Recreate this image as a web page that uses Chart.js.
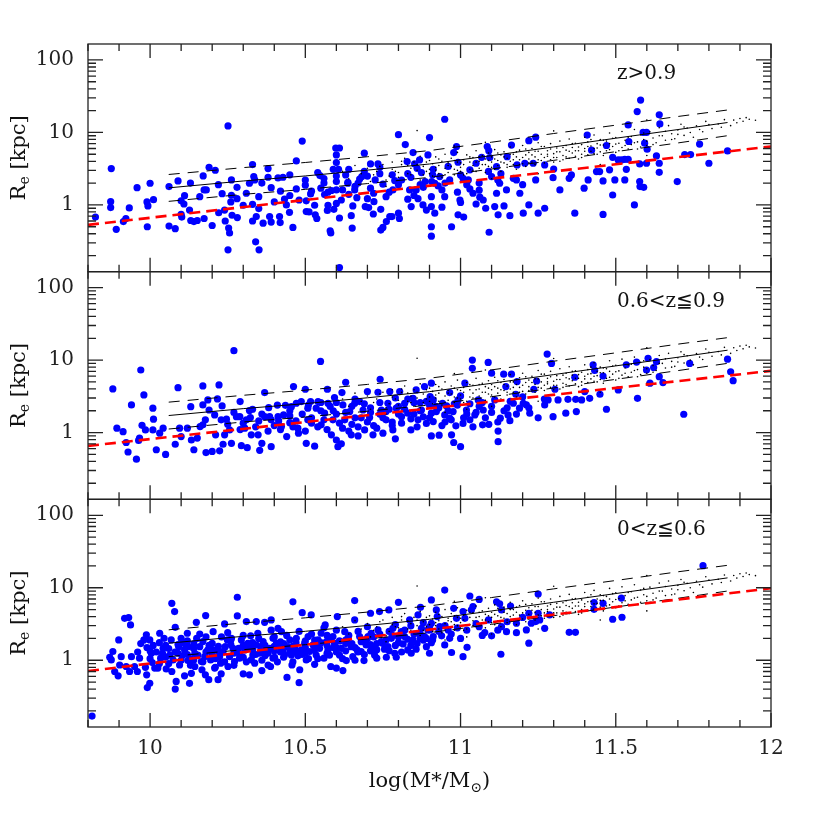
<!DOCTYPE html>
<html><head><meta charset="utf-8">
<script src="https://cdn.jsdelivr.net/npm/chart.js@4.4.0/dist/chart.umd.min.js"></script>
<style>html,body{margin:0;padding:0;background:#fff;}canvas{display:block;}</style>
</head><body>
<canvas id="c" width="814" height="814"></canvas>
<script>
const xTicks = [10, 10.5, 11, 11.5, 12];
const yTicks = [1, 10, 100];
const panelLabels = ['z>0.9', '0.6<z\u22660.9', '0<z\u22660.6'];

const hiZ = [[9.824,0.68],[9.875,3.17],[9.873,1.11],[9.873,0.92],[9.891,0.46],[9.914,0.59],[9.922,0.65],[9.933,0.91],[9.958,1.73],[9.991,0.50],[9.99,1.10],[9.993,0.97],[10.0,1.99],[10.011,1.18],[10.061,1.79],[10.061,0.51],[10.081,0.47],[10.09,2.14],[10.1,1.14],[10.1,0.74],[10.102,0.68],[10.111,1.34],[10.109,1.03],[10.127,0.85],[10.131,0.61],[10.141,0.59],[10.152,0.61],[10.171,2.51],[10.174,1.61],[10.181,1.61],[10.174,0.65],[10.19,3.31],[10.21,3.01],[10.2,0.52],[10.221,0.78],[10.232,1.43],[10.24,0.85],[10.242,0.60],[10.251,12.3],[10.251,0.24],[10.253,0.48],[10.256,0.41],[10.262,2.21],[10.262,1.36],[10.264,0.72],[10.28,1.22],[10.281,0.67],[10.3,0.99],[10.32,1.99],[10.33,3.60],[10.33,1.02],[10.334,2.46],[10.337,2.21],[10.33,0.60],[10.34,0.31],[10.351,0.24],[10.342,0.69],[10.35,0.89],[10.364,0.56],[10.38,3.17],[10.38,2.41],[10.39,1.73],[10.385,0.69],[10.39,0.58],[10.412,2.36],[10.417,0.69],[10.419,0.57],[10.428,2.41],[10.433,1.20],[10.439,1.0],[10.449,0.79],[10.46,0.49],[10.471,4.04],[10.471,1.66],[10.48,1.17],[10.49,7.6],[10.5,1.87],[10.503,1.14],[10.503,0.81],[10.512,0.80],[10.517,1.42],[10.53,0.99],[10.532,0.73],[10.537,0.65],[10.54,2.79],[10.547,2.54],[10.56,2.31],[10.562,1.39],[10.571,0.84],[10.573,0.99],[10.58,0.44],[10.582,0.41],[10.584,1.58],[10.59,3.10],[10.598,6.1],[10.61,6.1],[10.60,4.9],[10.60,3.84],[10.607,3.10],[10.60,2.10],[10.60,1.61],[10.60,1.05],[10.592,0.87],[10.61,0.66],[10.61,0.137],[10.616,1.17],[10.63,2.59],[10.637,1.99],[10.648,0.71],[10.651,0.48],[10.653,0.97],[10.659,1.61],[10.666,1.26],[10.675,2.28],[10.682,2.46],[10.69,5.17],[10.70,1.22],[10.693,0.95],[10.704,0.92],[10.71,3.68],[10.719,0.75],[10.721,1.11],[10.725,2.21],[10.734,3.68],[10.74,3.31],[10.743,0.45],[10.75,0.49],[10.743,0.87],[10.75,1.93],[10.761,0.59],[10.772,0.69],[10.779,0.69],[10.782,1.61],[10.788,2.17],[10.80,9.3],[10.80,0.77],[10.803,0.65],[10.822,6.8],[10.828,3.96],[10.83,1.20],[10.836,1.61],[10.841,0.95],[10.847,5.27],[10.852,3.68],[10.857,1.61],[10.863,1.22],[10.868,4.17],[10.874,2.79],[10.879,1.0],[10.886,2.10],[10.89,0.85],[10.895,4.9],[10.90,8.5],[10.906,0.50],[10.906,0.37],[10.906,1.30],
[10.573,1.50],[10.62,1.61],[10.637,2.05],[10.66,1.8],[10.69,2.9],[10.72,1.45],[10.76,1.3],[10.78,2.6],[10.81,2.2],[10.84,2.4],[10.87,1.9],[10.55,1.7],[10.45,1.35],[10.42,1.55],[10.35,1.3],[10.28,1.75],[10.5,2.2],[10.64,3.1],[10.7,2.5],[10.86,3.2],
[10.912,3.10],[10.907,2.10],[10.917,1.99],[10.928,1.83],[10.949,15.2],[10.94,1.61],[10.949,1.30],[10.906,0.95],[10.917,0.77],[10.94,0.93],[10.971,0.50],[10.978,5.27],[10.987,6.4],[10.992,3.88],[11.0,2.59],[10.992,0.73],[11.008,2.33],[10.998,1.17],[11.0,1.08],[11.01,0.68],[11.025,2.21],[11.03,1.66],[11.04,1.45],[11.05,1.03],[11.062,1.28],[11.073,1.17],[11.068,4.54],[11.086,6.4],[11.091,5.6],[11.094,4.5],[11.10,2.46],[11.092,0.42],[11.081,0.90],[11.11,0.95],[11.116,1.45],[11.121,0.73],[11.126,1.99],[11.14,0.97],[11.15,4.63],[11.159,0.71],[11.164,6.7],[11.17,2.33],[11.182,3.56],[11.191,1.45],[11.202,0.77],[11.207,3.76],[11.22,7.7],[11.22,1.0],[11.242,8.6],[11.242,2.21],[11.25,0.77],[11.271,0.90],[11.271,3.56],[11.298,2.38],[11.30,3.13],[11.32,1.61],[11.35,2.33],[11.357,2.59],[11.368,0.77],[11.398,1.70],[11.408,9.2],[11.411,2.21],[11.422,5.7],[11.438,2.88],[11.448,2.88],[11.459,2.14],[11.459,0.74],[11.47,6.6],[11.48,3.05],[11.49,4.54],[11.49,1.37],[11.497,2.21],[11.508,4.17],[11.518,4.17],[11.529,4.26],[11.534,3.10],[11.54,4.26],[11.529,2.21],[11.54,12.7],[11.542,7.5],[11.56,1.0],[11.569,19.4],[11.58,28],[11.577,3.68],[11.577,2.10],[11.578,1.79],[11.59,1.75],[11.588,10.0],[11.599,10.0],[11.593,7.1],[11.601,5.86],[11.599,3.76],[11.631,4.74],[11.64,17.5],[11.642,13.1],[11.64,3.76],[11.64,2.82],[11.698,2.10],[11.722,4.95],[11.741,4.95],[11.77,6.9],[11.80,3.76],[11.86,5.55],
[10.933,2.46],[10.965,2.21],[11.03,3.05],[11.05,3.76],[11.116,3.37],[11.148,1.61],[11.18,2.21],[11.234,3.76],[10.96,3.4],[11.06,2.0],[11.13,2.7],
[10.52,1.55],[10.56,2.0],[10.6,2.5],[10.64,1.4],[10.67,2.0],[10.71,1.7],[10.74,2.7],[10.77,1.5],[10.8,1.9],[10.83,2.7],[10.85,1.35],[10.88,1.75],[10.91,2.6],[10.95,2.0],[10.99,1.5],[11.02,1.9],[11.06,1.6],[11.09,2.9],[11.12,2.2],[11.2,1.9],[10.45,2.6],[10.4,1.1],[10.36,2.0],[10.31,1.45],[10.26,1.1],[10.22,1.9],[10.16,1.3],[10.13,2.0]];

const midZ = [[9.88,4.0],[9.893,1.15],[9.913,1.03],[9.923,0.73],[9.929,0.54],[9.94,2.41],[9.956,0.43],[9.963,0.78],[9.97,7.3],[9.966,0.84],[9.974,1.26],[9.98,3.31],[9.985,1.09],[10.009,2.17],[10.011,1.53],[10.009,1.09],[10.02,0.58],[10.031,0.98],[10.042,1.15],[10.05,0.50],[10.081,0.69],[10.09,4.17],[10.095,1.15],[10.10,0.88],[10.12,1.15],[10.131,2.28],[10.133,0.79],[10.141,0.58],[10.152,0.84],[10.161,1.21],[10.17,4.40],[10.17,2.41],[10.17,1.28],[10.178,1.50],[10.18,0.53],[10.186,2.82],[10.19,2.05],[10.2,0.55],[10.208,1.75],[10.211,0.93],[10.217,2.91],[10.222,4.54],[10.224,0.56],[10.229,1.50],[10.232,2.33],[10.235,0.69],[10.24,0.93],[10.246,1.53],[10.256,1.09],[10.262,0.71],[10.27,13.5],[10.278,1.66],[10.289,1.66],[10.29,2.68],[10.294,0.66],[10.305,1.15],[10.313,0.62],[10.32,2.01],[10.323,1.61],[10.326,0.93],[10.348,0.93],[10.353,0.57],[10.36,0.71],[10.369,3.56],[10.369,1.66],[10.382,2.21],[10.385,1.66],[10.39,0.64],[10.412,1.66],[10.414,1.45],[10.423,1.21],[10.436,2.38],[10.44,0.88],[10.45,1.37],[10.455,2.28],[10.462,4.31],[10.471,2.54],[10.476,1.15],[10.478,0.98],[10.487,2.68],[10.5,3.96],[10.503,0.71],[10.508,1.50],[10.508,2.17],[10.517,2.68],[10.53,0.65],[10.535,2.17],[10.541,2.68],[10.549,9.6],[10.551,1.28],[10.562,1.85],[10.571,3.96],[10.573,2.54],[10.584,0.93],[10.589,1.50],[10.594,3.04],[10.6,0.79],[10.605,0.64],[10.616,0.70],[10.618,3.56],[10.621,2.41],[10.627,1.50],[10.63,4.95],[10.643,1.95],[10.648,0.93],[10.659,2.54],[10.67,0.90],[10.675,2.68],[10.686,2.05],[10.691,1.09],[10.70,3.68],[10.707,1.61],[10.718,0.93],[10.734,3.6],[10.741,5.44],[10.745,2.05],[10.75,0.98],[10.76,1.50],[10.766,2.54],[10.772,3.68],[10.782,1.09],[10.79,0.82],[10.793,2.17],[10.804,3.68],[10.81,1.66],[10.82,2.54],[10.83,1.85],[10.84,1.09],[10.847,2.97],[10.857,3.88],[10.863,1.50],[10.874,2.05],[10.884,4.31],[10.89,1.34],[10.90,2.41],[10.906,4.8],[10.906,0.90],
[10.55,2.0],[10.6,1.8],[10.65,1.3],[10.68,1.6],[10.72,1.25],[10.74,1.8],[10.78,1.4],[10.8,2.3],[10.85,1.8],[10.87,2.6],[10.62,1.15],[10.58,2.3],[10.52,1.35],[10.45,1.7],[10.4,1.25],[10.35,1.45],[10.3,1.35],[10.66,2.9],[10.71,2.2],[10.88,1.65],[10.83,2.9],[10.76,1.95],
[10.902,3.13],[10.912,2.82],[10.906,1.85],[10.912,1.42],[10.922,1.95],[10.931,0.92],[10.942,2.54],[10.949,1.75],[10.955,2.33],[10.965,3.56],[10.965,1.58],[10.971,0.93],[10.976,1.95],[10.978,0.73],[10.985,1.24],[10.992,2.82],[11.0,0.64],[11.008,1.34],[11.014,4.8],[11.019,2.05],[11.03,1.50],[11.038,10.0],[11.038,7.7],[11.046,1.75],[11.057,2.82],[11.071,1.28],[11.073,2.05],[11.089,9.3],[11.091,1.30],[11.10,6.6],[11.11,2.82],[11.121,1.05],[11.121,0.75],[11.128,1.58],[11.139,6.4],[11.146,4.31],[11.153,1.75],[11.159,1.46],[11.164,6.4],[11.17,2.54],[11.178,3.38],[11.182,5.05],[11.19,2.17],[11.202,2.54],[11.212,2.41],[11.223,1.85],[11.236,3.96],[11.245,5.15],[11.271,2.41],[11.279,12.1],[11.282,2.82],[11.293,9.0],[11.298,1.66],[11.304,3.96],[11.314,2.82],[11.339,1.85],[11.346,2.88],[11.368,5.8],[11.371,2.88],[11.373,1.95],[11.39,2.82],[11.40,3.68],[11.416,2.97],[11.427,8.6],[11.432,7.2],[11.449,3.38],[11.459,6.04],[11.47,2.10],[11.508,3.88],[11.534,8.6],[11.567,9.4],[11.57,2.97],[11.599,7.3],[11.604,10.6],[11.61,4.8],[11.622,7.9],[11.631,9.5],[11.64,5.9],[11.652,4.9],[11.719,1.79],[11.738,9.0],[11.86,10.3],[11.87,6.9],[11.878,5.2],
[10.93,2.2],[10.95,1.4],[10.98,2.5],[11.02,1.8],[11.06,2.3],[11.1,1.9],[11.15,2.2],[11.0,3.2],
[10.25,1.3],[10.27,1.9],[10.29,1.1],[10.31,1.5],[10.33,2.1],[10.34,1.2],[10.36,1.8],[10.38,1.05],[10.39,1.5],[10.41,2.4],[10.42,1.1],[10.43,1.75],[10.45,2.0],[10.46,1.2],[10.47,1.45],[10.49,1.8],[10.5,1.05],[10.51,2.4],[10.52,1.6],[10.54,1.2],[10.55,2.6],[10.56,1.5],[10.57,1.1],[10.59,2.0],[10.6,2.6],[10.61,1.35],[10.63,1.9],[10.64,1.05],[10.65,2.3],[10.66,1.6],[10.67,1.2],[10.69,2.5],[10.7,1.4],[10.71,1.9],[10.73,1.15],[10.74,2.6],[10.75,1.6],[10.77,2.1],[10.78,1.25],[10.79,3.0],[10.8,1.8],[10.81,1.35],[10.82,2.1],[10.84,1.55],[10.85,2.6],[10.86,1.2],[10.87,2.0],[10.89,2.7],[10.9,1.6],[10.92,2.3],[10.94,1.25],[10.96,2.0],[10.97,1.5],[10.99,2.4],[11.01,1.6],[11.03,2.5],[11.04,1.2],[11.05,1.9],[11.07,2.6],[11.08,1.6],[11.1,2.3],[11.12,1.4],[11.14,2.0],[11.16,2.7],[11.18,1.8],[11.2,3.1],[11.22,2.2],[11.25,1.6],[11.27,2.9]];

const lowZ = [[9.813,0.17],[9.87,1.10],[9.88,1.32],[9.875,1.01],[9.886,0.70],[9.897,0.61],[9.899,1.91],[9.902,0.86],[9.907,1.12],[9.918,3.79],[9.931,3.88],[9.937,3.07],[9.923,0.82],[9.934,0.70],[9.94,1.12],[9.95,0.82],[9.959,0.70],[9.966,1.07],[9.98,1.91],[9.988,2.24],[9.985,0.80],[9.989,0.63],[9.991,0.42],[9.999,0.48],[9.999,1.91],[10.004,1.25],[10.007,0.93],[10.015,0.78],[10.025,0.78],[10.031,2.36],[10.034,1.07],[10.042,1.46],[10.045,2.01],[10.052,0.76],[10.063,1.18],[10.068,1.91],[10.07,6.1],[10.074,1.01],[10.079,4.69],[10.081,2.85],[10.081,0.40],[10.084,0.51],[10.092,1.54],[10.095,0.86],[10.103,1.15],[10.111,1.39],[10.111,0.61],[10.12,2.36],[10.122,0.99],[10.127,0.48],[10.133,0.66],[10.141,1.68],[10.144,0.82],[10.149,3.34],[10.154,1.18],[10.165,0.96],[10.167,0.74],[10.17,1.81],[10.178,0.63],[10.179,4.13],[10.186,1.39],[10.189,0.54],[10.195,1.01],[10.203,2.48],[10.208,0.78],[10.219,0.54],[10.224,1.12],[10.229,0.65],[10.235,1.32],[10.24,3.17],[10.249,1.91],[10.251,0.82],[10.262,2.01],[10.272,0.96],[10.281,7.4],[10.281,4.09],[10.285,1.46],[10.294,1.91],[10.3,0.65],[10.31,3.42],[10.32,0.63],[10.324,2.17],[10.331,1.18],[10.337,0.91],[10.342,3.42],[10.347,2.36],[10.356,1.54],[10.36,0.72],[10.369,3.34],[10.374,1.39],[10.38,0.86],[10.388,0.82],[10.39,3.6],[10.396,2.01],[10.401,1.10],[10.412,2.76],[10.417,1.54],[10.423,2.48],[10.433,1.18],[10.441,0.58],[10.45,1.91],[10.457,0.86],[10.46,6.4],[10.466,1.46],[10.476,1.15],[10.48,0.49],[10.482,0.74],[10.49,4.54],[10.498,1.72],[10.503,1.01],[10.514,1.32],[10.519,4.22],[10.53,0.88],[10.541,1.91],[10.551,2.36],[10.56,1.07],[10.564,3.07],[10.573,1.39],[10.582,0.82],[10.589,2.12],[10.6,0.78],[10.603,4.0],[10.61,1.18],[10.621,0.72],[10.627,2.48],[10.632,0.99],[10.648,1.54],[10.659,6.65],[10.659,3.6],[10.667,1.39],[10.675,2.12],[10.689,0.99],[10.696,1.63],[10.71,4.45],[10.712,2.36],[10.723,1.18],[10.73,1.07],[10.739,4.69],[10.745,1.81],[10.755,1.42],[10.761,1.10],[10.769,4.95],[10.777,2.01],[10.788,1.25],[10.793,1.10],[10.80,6.3],[10.809,2.48],[10.815,1.68],[10.83,1.39],[10.836,3.6],[10.847,1.91],[10.857,1.42],[10.863,4.22],[10.871,5.38],[10.884,2.12],[10.895,2.62],[10.90,1.25],[10.906,6.8],[10.906,1.75],
[10.122,1.54],[10.144,1.25],[10.16,1.54],[10.176,1.12],[10.2,1.71],[10.213,1.39],[10.227,0.91],[10.242,1.54],[10.256,1.12],[10.267,1.46],[10.288,1.07],[10.305,1.39],[10.315,1.71],[10.326,1.01],[10.342,1.63],[10.353,1.25],[10.364,1.81],[10.385,1.46],[10.396,1.07],[10.407,1.71],[10.428,1.39],[10.444,1.54],[10.455,1.18],[10.471,2.01],[10.487,1.39],[10.509,2.12],[10.525,1.63],[10.535,1.18],[10.546,1.46],[10.568,1.81],[10.578,1.18],[10.594,1.71],[10.616,1.46],[10.637,2.01],[10.653,1.12],[10.68,1.32],[10.702,2.12],[10.721,1.54],[10.734,2.62],[10.766,1.54],[10.782,2.76],[10.82,2.12],[10.841,1.25],[10.874,2.76],[10.89,1.54],
[9.96,1.3],[9.99,1.5],[10.02,1.3],[10.05,1.6],[10.06,0.9],[10.09,1.25],[10.11,1.7],[10.13,1.05],[10.15,2.0],[10.18,1.3],[10.21,1.05],[10.23,2.1],[10.27,1.25],[10.3,1.6],[10.33,1.4],[10.37,1.15],[10.4,1.35],[10.43,1.7],[10.47,1.3],[10.5,1.5],[10.53,1.9],[10.57,1.6],[10.6,1.3],[10.63,1.7],[10.66,1.5],[10.69,1.9],[10.71,1.35],[10.75,1.7],[10.79,1.6],[10.85,2.3],[10.88,1.9],
[9.97,1.7],[10.0,1.05],[10.01,1.6],[10.03,0.9],[10.04,1.25],[10.06,1.45],[10.07,0.7],[10.08,1.3],[10.1,1.0],[10.1,2.0],[10.12,1.2],[10.13,0.85],[10.14,1.45],[10.15,1.15],[10.16,2.3],[10.17,0.95],[10.19,1.6],[10.2,1.2],[10.21,0.8],[10.22,1.55],[10.23,1.3],[10.24,0.95],[10.25,2.4],[10.26,1.65],[10.27,0.85],[10.28,1.3],[10.29,1.15],[10.3,2.2],[10.31,0.95],[10.32,1.5],[10.34,1.2],[10.35,2.0],[10.36,1.0],[10.37,1.6],[10.38,1.25],[10.39,2.6],[10.4,1.55],[10.41,0.95],[10.42,1.8],[10.43,1.1],[10.44,2.2],[10.45,1.3],[10.46,0.95],[10.47,1.75],[10.48,2.5],[10.49,1.2],[10.5,1.85],[10.51,1.05],[10.52,2.3],[10.53,1.4],[10.54,1.05],[10.55,1.75],[10.56,2.8],[10.57,1.25],[10.58,2.0],[10.59,1.5],[10.6,2.6],[10.61,1.85],[10.62,1.05],[10.63,1.35],[10.64,2.2],[10.65,1.7],[10.66,1.0],[10.67,2.5],[10.68,1.8],[10.69,1.2],[10.7,2.9],[10.71,1.65],[10.72,2.1],[10.73,1.4],[10.74,2.3],[10.76,1.9],[10.77,1.35],[10.78,2.2],[10.79,3.1],[10.8,1.75],[10.81,1.3],[10.82,2.6],[10.83,1.95],[10.84,3.0],[10.86,1.7],[10.87,2.3],[10.88,3.3],[10.89,2.0],[10.9,2.9],[10.91,1.9],[10.93,2.5],[10.95,3.0],[10.97,2.3],[10.99,2.8],[11.0,2.0],[11.02,2.6],[11.05,3.2],[11.07,2.2],[11.09,3.6],[11.12,2.6],[11.15,3.4],[11.18,2.4],[11.2,3.9],
[10.0,1.35],[10.03,1.75],[10.05,1.1],[10.09,1.65],[10.12,1.85],[10.14,1.0],[10.18,2.1],[10.2,1.4],[10.22,1.15],[10.26,1.9],[10.3,1.1],[10.33,1.75],[10.36,1.35],[10.4,2.1],[10.42,1.3],[10.46,1.55],[10.5,1.25],[10.53,1.6],[10.57,2.2],[10.6,1.5],[10.63,1.9],[10.67,1.3],[10.7,2.0],[10.73,1.7],[10.77,2.5],[10.8,2.1],[10.84,1.6],[10.87,2.0],
[10.922,4.95],[10.906,3.24],[10.901,2.62],[10.912,2.12],[10.925,4.0],[10.933,2.91],[10.939,2.17],[10.949,9.3],[10.949,1.63],[10.96,2.62],[10.965,2.01],[10.971,1.28],[10.978,5.2],[10.987,3.79],[11.008,4.69],[11.008,1.12],[11.014,3.79],[11.021,1.51],[11.03,7.7],[11.035,4.95],[11.04,5.5],[11.06,6.9],[11.06,2.91],[11.078,2.41],[11.10,2.17],[11.116,6.4],[11.126,6.0],[11.132,4.95],[11.13,1.21],[11.132,2.91],[11.148,2.48],[11.161,5.6],[11.18,3.24],[11.212,2.62],[11.22,1.72],[11.22,4.45],[11.228,3.24],[11.242,3.42],[11.25,8.2],[11.25,4.45],[11.255,3.6],[11.271,2.76],[11.287,4.22],[11.35,2.43],[11.37,2.43],[11.43,6.25],[11.43,5.05],[11.459,6.1],[11.49,3.68],[11.518,7.2],[11.52,3.92],[11.781,20.2]];

const localSample = [[10.72,2.6],[10.74,3.4],[10.76,2.2],[10.78,3.9],[10.79,2.9],[10.80,2.4],[10.81,3.6],[10.82,4.4],[10.83,2.7],[10.84,3.2],[10.85,2.3],[10.85,3.9],[10.86,3.0],[10.87,4.7],[10.88,2.6],[10.88,3.4],[10.89,2.9],[10.90,4.1],[10.90,3.1],[10.91,2.5],[10.91,3.7],[10.92,4.6],[10.92,3.0],[10.93,2.7],[10.93,3.5],[10.94,4.0],[10.94,2.4],[10.95,3.2],[10.95,5.0],[10.96,3.8],[10.96,2.8],[10.97,3.4],[10.97,4.4],[10.98,2.6],[10.98,3.1],[10.99,3.9],[10.99,5.3],[11.00,3.3],[11.00,2.9],[11.01,4.2],[11.01,3.6],[11.02,4.9],[11.02,2.7],[11.03,3.1],[11.03,3.9],[11.04,4.5],[11.04,3.5],[11.05,2.9],[11.05,5.6],[11.06,4.0],[11.06,3.2],[11.07,4.8],[11.07,3.6],[11.08,2.8],[11.08,4.3],[11.09,3.4],[11.09,5.2],[11.10,3.9],[11.10,4.6],[11.11,3.1],[11.11,5.8],[11.12,4.1],[11.12,3.5],[11.13,4.9],[11.13,2.9],[11.14,3.8],[11.14,5.4],[11.15,4.4],[11.15,3.3],[11.16,6.3],[11.16,4.0],[11.17,3.6],[11.17,5.0],[11.18,4.6],[11.18,3.1],[11.19,5.7],[11.19,4.2],[11.20,3.7],[11.20,6.6],[11.21,4.9],[11.21,3.4],[11.22,5.3],[11.22,4.3],[11.23,3.9],[11.23,6.0],[11.24,4.6],[11.24,3.6],[11.25,5.5],[11.25,7.2],[11.26,4.1],[11.26,5.0],[11.27,3.8],[11.27,6.4],[11.28,4.7],[11.28,5.6],[11.29,4.2],[11.29,7.0],[11.30,5.1],[11.30,3.9],[11.31,6.1],[11.31,4.5],[11.32,5.4],[11.32,7.6],[11.33,4.8],[11.33,4.2],[11.34,6.6],[11.34,5.7],[11.35,4.4],[11.35,8.1],[11.36,5.2],[11.36,6.2],[11.37,4.7],[11.37,7.1],[11.38,5.6],[11.38,4.3],[11.39,6.8],[11.39,5.0],[11.40,8.6],[11.40,6.0],[11.41,4.9],[11.41,7.4],[11.42,5.5],[11.42,6.5],[11.43,9.2],[11.43,5.1],[11.44,7.0],[11.44,6.1],[11.45,5.4],[11.45,8.0],[11.46,6.7],[11.46,4.8],[11.47,7.6],[11.48,5.8],[11.48,9.8],[11.49,6.4],[11.50,8.5],[11.50,5.3],[11.51,7.1],[11.52,6.2],[11.52,10.3],[11.53,7.8],[11.54,5.9],[11.55,8.8],[11.55,6.8],[11.56,11.0],[11.57,7.4],[11.58,6.3],[11.58,9.3],[11.59,8.0],[11.60,6.6],[11.61,10.2],[11.62,8.4],[11.63,7.2],[11.64,11.6],[11.65,9.0],[11.66,7.8],[11.67,12.4],[11.68,9.6],[11.69,8.2],[11.70,10.8],[11.71,13.0],[11.72,9.1],[11.73,11.5],[11.75,8.6],[11.76,12.3],[11.78,10.2],[11.79,14.2],[11.81,11.3],[11.83,13.1],[11.85,15.0],[11.87,12.4],[11.88,14.8],[11.90,15.6],[11.91,14.3],[11.93,15.2],[11.95,14.7],
[10.76,1.8],[10.95,1.9],[11.02,2.1],[11.10,2.3],[11.25,2.7],[11.08,7.3],[10.98,6.5],[11.30,10.5],[11.45,3.6],[11.60,4.8],[10.86,10.6],[11.60,14.8],
[10.62,2.9],[10.64,2.3],[10.66,3.5],[10.68,2.7],[10.70,3.2],[10.71,2.1],[10.73,2.9],[10.75,3.6],[10.77,2.5],[10.78,3.1],[10.80,2.8],[10.81,4.0],[10.83,3.5],[10.84,2.6],[10.86,3.6],[10.87,2.2],[10.89,3.9],[10.90,2.7],[10.92,3.3],[10.93,4.3],[10.95,2.6],[10.96,3.5],[10.98,4.1],[10.99,3.0],[11.00,3.8],[11.01,2.6],[11.03,4.6],[11.04,3.0],[11.05,3.9],[11.06,4.6],[11.08,3.6],[11.09,4.1],[11.10,3.3],[11.11,4.3],[11.12,5.2],[11.13,3.9],[11.14,4.6],[11.15,3.6],[11.16,5.0],[11.17,4.2],[11.18,5.4],[11.19,3.6],[11.20,4.5],[11.21,5.9],[11.22,3.8],[11.23,4.9],[11.24,5.5],[11.25,4.2],[11.26,6.4],[11.27,4.5],[11.28,5.0],[11.29,5.9],[11.30,4.5],[11.31,5.4],[11.32,4.0],[11.33,6.2],[11.34,4.6],[11.35,5.5],[11.36,7.0],[11.37,5.6],[11.38,6.3],[11.39,4.5],[11.40,5.5],[11.41,6.4],[11.42,8.0],[11.43,6.0],[11.44,5.0],[11.45,6.7],[11.46,7.8],[11.47,5.6],[11.48,7.0],[11.49,8.3],[11.50,6.9],[11.51,5.6],[11.53,6.6],[11.54,8.6],[11.56,7.2],[11.57,5.9],[11.59,9.8],[11.60,7.6],[11.62,6.8],[11.64,9.0],[11.66,10.4],[11.68,8.0],[11.70,9.4],[11.72,11.9],[11.74,10.0],[11.77,11.0],[11.80,12.8],[11.84,11.8],[11.89,13.6],[11.92,16.0]];

const relMass = [10.06, 10.3, 10.5, 10.7, 10.9, 11.1, 11.3, 11.5, 11.7, 11.86];
const relMid  = [1.72, 2.14, 2.51, 3.02, 3.67, 4.79, 6.31, 8.32, 10.96, 13.7];
const relUp   = [2.63, 3.27, 3.85, 4.62, 5.62, 7.33, 9.66, 12.6, 16.6, 20.4];
const relLow  = [1.12, 1.40, 1.64, 1.97, 2.40, 3.13, 4.12, 5.43, 7.16, 9.02];

const fitMass = [9.8, 12];
const fitHi  = [0.53, 6.4];
const fitMid = [0.655, 7.1];
const fitLow = [0.71, 9.85];

const zip = (xs, ys) => xs.map((x, i) => ({x: x, y: ys[i]}));
const toPts = arr => arr.map(p => ({x: p[0], y: p[1]}));

function panelSets(axis, pts, fit) {
  const line = (ys, dash, color, w, order) => ({
    data: zip(relMass, ys), yAxisID: axis, showLine: true, borderColor: color,
    borderWidth: w, borderDash: dash, pointRadius: 0, fill: false, order: order
  });
  return [
    {data: zip(fitMass, fit), yAxisID: axis, showLine: true, borderColor: '#ff0000', borderWidth: 2.6,
     borderDash: [11, 6], pointRadius: 0, fill: false, order: 0},
    line(relMid, [], '#000', 1, 1),
    line(relUp, [11, 8], '#000', 1, 1),
    line(relLow, [11, 8], '#000', 1, 1),
    {data: toPts(localSample), yAxisID: axis, pointRadius: 0.8, backgroundColor: '#000', borderWidth: 0, order: 2},
    {data: toPts(pts), yAxisID: axis, pointRadius: 3.6, backgroundColor: '#0000ff', borderWidth: 0, order: 3}
  ];
}

const serif = '"DejaVu Serif", "Liberation Serif", serif';

function yAxis(weight) {
  return {
    type: 'logarithmic', position: 'left', stack: 'panels', stackWeight: 1, weight: weight,
    min: 0.12, max: 166, offset: false,
    afterBuildTicks: s => { s.ticks = yTicks.map(v => ({value: v, major: true})); },
    ticks: {font: {family: serif, size: 20}, color: '#222', padding: 14, autoSkip: false,
            callback: v => String(v)},
    grid: {display: false, drawTicks: false}, border: {display: false},
    afterFit: s => { s.width = 88; }
  };
}

const framePlugin = {
  id: 'frame',
  afterDatasetsDraw(chart) {
    const ctx = chart.ctx, xs = chart.scales.x, ca = chart.chartArea;
    ['y1', 'y2', 'y3'].forEach((id, idx) => {
      const s = chart.scales[id];
      const top = s.top, bot = s.bottom;
      ctx.save();
      ctx.strokeStyle = '#222';
      ctx.lineWidth = 1.3;
      ctx.strokeRect(ca.left, top, ca.right - ca.left, bot - top);
      ctx.beginPath();
      for (let i = 98; i <= 120; i++) {
        const px = xs.getPixelForValue(i / 10);
        const L = i % 5 === 0 ? 14 : 7;
        ctx.moveTo(px, bot); ctx.lineTo(px, bot - L);
        ctx.moveTo(px, top); ctx.lineTo(px, top + L);
      }
      for (let e = -1; e <= 2; e++) {
        for (let k = 1; k <= 9; k++) {
          const v = k * Math.pow(10, e);
          if (v < s.min || v > s.max) continue;
          const py = s.getPixelForValue(v);
          const L = k === 1 ? 15 : 8;
          ctx.moveTo(ca.left, py); ctx.lineTo(ca.left + L, py);
          ctx.moveTo(ca.right, py); ctx.lineTo(ca.right - L, py);
        }
      }
      ctx.stroke();
      ctx.fillStyle = '#111';
      ctx.font = '20px ' + serif;
      ctx.textBaseline = 'middle';
      ctx.textAlign = 'left';
      ctx.fillText(panelLabels[idx], 617, top + 30);
      ctx.translate(17, (top + bot) / 2);
      ctx.rotate(-Math.PI / 2);
      ctx.textBaseline = 'alphabetic';
      const big = '21px ' + serif, small = '14px ' + serif;
      ctx.font = big; const wR = ctx.measureText('R').width;
      ctx.font = small; const wE = ctx.measureText('e').width;
      ctx.font = big; const wK = ctx.measureText(' [kpc]').width;
      const x0 = -(wR + wE + wK) / 2;
      ctx.font = big; ctx.fillText('R', x0, 8);
      ctx.font = small; ctx.fillText('e', x0 + wR, 12);
      ctx.font = big; ctx.fillText(' [kpc]', x0 + wR + wE, 8);
      ctx.restore();
    });
    ctx.save();
    ctx.fillStyle = '#111';
    ctx.textBaseline = 'alphabetic';
    ctx.textAlign = 'left';
    const big = '21px ' + serif, small = '14px ' + serif;
    ctx.font = big; const wa = ctx.measureText('log(M*/M').width;
    ctx.font = small; const wb = ctx.measureText('\u2299').width;
    ctx.font = big; const wc = ctx.measureText(')').width;
    const cx = (ca.left + ca.right) / 2;
    const x0 = cx - (wa + wb + wc) / 2;
    ctx.font = big; ctx.fillText('log(M*/M', x0, 787);
    ctx.font = small; ctx.fillText('\u2299', x0 + wa, 792);
    ctx.font = big; ctx.fillText(')', x0 + wa + wb, 787);
    ctx.restore();
  }
};

new Chart(document.getElementById('c'), {
  type: 'scatter',
  data: {
    datasets: [].concat(
      panelSets('y1', hiZ, fitHi),
      panelSets('y2', midZ, fitMid),
      panelSets('y3', lowZ, fitLow)
    )
  },
  options: {
    responsive: false,
    animation: false,
    events: [],
    layout: {padding: {top: 44, right: 43, left: 0, bottom: 0}},
    plugins: {legend: {display: false}, tooltip: {enabled: false}},
    scales: {
      x: {
        type: 'linear', min: 9.8, max: 12,
        afterBuildTicks: s => { s.ticks = xTicks.map(v => ({value: v})); },
        ticks: {font: {family: serif, size: 20}, color: '#222', padding: 10, autoSkip: false,
                maxRotation: 0, callback: v => String(v)},
        grid: {display: false, drawTicks: false}, border: {display: false},
        afterFit: s => { s.height = 87; }
      },
      y1: yAxis(3),
      y2: yAxis(2),
      y3: yAxis(1)
    }
  },
  plugins: [framePlugin]
});
</script>
</body></html>
